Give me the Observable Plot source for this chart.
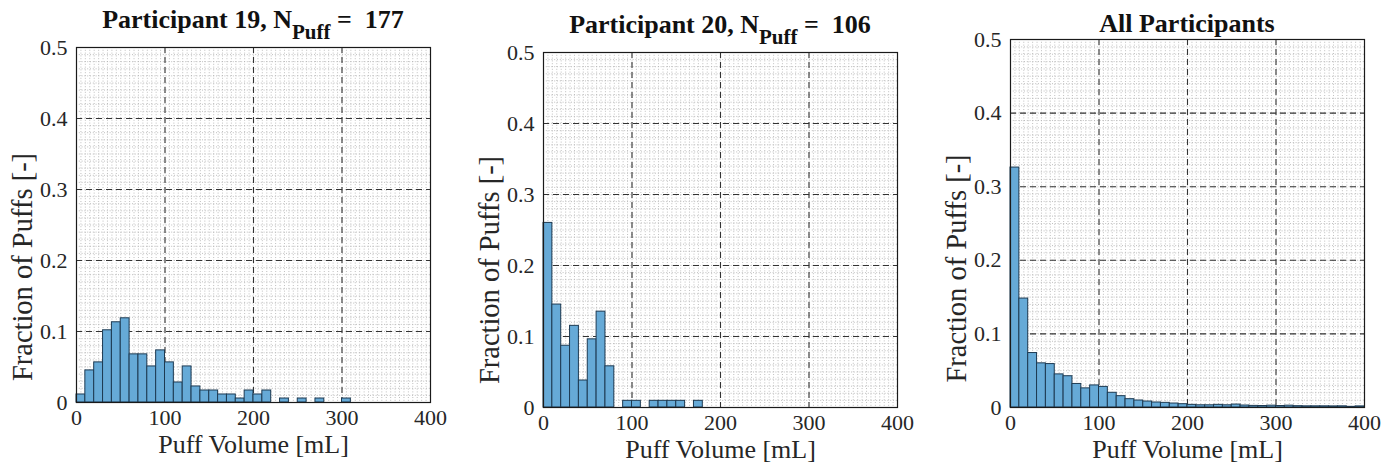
<!DOCTYPE html>
<html>
<head>
<meta charset="utf-8">
<script src="https://cdn.jsdelivr.net/npm/d3@7"></script>
<script src="https://cdn.jsdelivr.net/npm/@observablehq/plot@0.6"></script>
<style>
  html, body { margin: 0; padding: 0; background: #fff; }
  #wrap { position: relative; width: 1398px; height: 471px; overflow: hidden; }
  #wrap > svg { position: absolute; top: 0; }
</style>
</head>
<body>
<div id="wrap"></div>
<script>
// ---- data ----
const BIN_WIDTH = 10;
const BIN_STARTS = d3.range(0, 400, BIN_WIDTH);
const X_TICKS = [0, 100, 200, 300, 400];
const Y_TICKS = [0, 0.1, 0.2, 0.3, 0.4, 0.5];
const X_MAJOR_GRID = [100, 200, 300];
const Y_MAJOR_GRID = [0.1, 0.2, 0.3, 0.4];
const X_MINOR_GRID = d3.range(5, 400, 5);
const Y_MINOR_GRID = d3.range(1, 50).map(k => k / 100);

const p19 = [0.0113, 0.0452, 0.0565, 0.1017, 0.1130, 0.1186, 0.0678, 0.0678, 0.0508, 0.0734,
             0.0565, 0.0282, 0.0508, 0.0226, 0.0169, 0.0169, 0.0113, 0.0113, 0.0056, 0.0169,
             0.0113, 0.0169, 0, 0.0056, 0, 0.0056, 0, 0.0056, 0, 0,
             0.0056, 0, 0, 0, 0, 0, 0, 0, 0, 0];
const p20 = [0.260, 0.145, 0.087, 0.115, 0.038, 0.096, 0.135, 0.058, 0, 0.0094,
             0.0094, 0, 0.0094, 0.0094, 0.0094, 0.0094, 0, 0.0094, 0, 0,
             0, 0, 0, 0, 0, 0, 0, 0, 0, 0,
             0, 0, 0, 0, 0, 0, 0, 0, 0, 0];
const pAll = [0.326, 0.148, 0.074, 0.060, 0.059, 0.045, 0.0425, 0.032, 0.026, 0.030,
              0.028, 0.020, 0.0154, 0.0113, 0.0095, 0.0081, 0.0068, 0.0063, 0.0054, 0.0045,
              0.0036, 0.003, 0.003, 0.0036, 0.003, 0.004, 0.0027, 0.0022, 0.002, 0.0025,
              0.002, 0.0025, 0.0018, 0.0016, 0.0016, 0.0016, 0.0015, 0.0016, 0.0009, 0.0015];

const X_LABEL = "Puff Volume [mL]";
const Y_LABEL = "Fraction of Puffs [-]";

const panels = [
  {values: p19, left: 0, ml: 76, mr: 36, mt: 47, mb: 69, ly: 42,
   title: ["Participant 19, N", "Puff", " =  177"], base: 28},
  {values: p20, left: 466, ml: 77, mr: 35, mt: 52, mb: 64, ly: 40,
   title: ["Participant 20, N", "Puff", " =  106"], base: 33},
  {values: pAll, left: 932, ml: 78, mr: 34, mt: 39, mb: 64, ly: 45,
   title: ["All Participants"], base: 32}
];

const FONT = "'Liberation Serif', 'Times New Roman', Times, serif";
const wrap = document.getElementById("wrap");

for (const p of panels) {
  const data = BIN_STARTS.map((x0, i) => ({x0, x1: x0 + BIN_WIDTH, v: p.values[i]}))
                         .filter(d => d.v > 0);
  const W = 466, H = 471;
  const chart = Plot.plot({
    width: W, height: H,
    marginLeft: p.ml, marginRight: p.mr, marginTop: p.mt, marginBottom: p.mb,
    style: {fontFamily: FONT, background: "transparent", color: "#262626", overflow: "visible"},
    x: {domain: [0, 400]},
    y: {domain: [0, 0.5]},
    marks: [
      Plot.ruleX(X_MINOR_GRID, {stroke: "#b0b0b0", strokeWidth: 0.8, strokeDasharray: "1,1.8"}),
      Plot.ruleY(Y_MINOR_GRID, {stroke: "#b0b0b0", strokeWidth: 0.8, strokeDasharray: "1,1.8"}),
      Plot.ruleX(X_MAJOR_GRID, {stroke: "#333", strokeWidth: 1.1, strokeDasharray: "6,4"}),
      Plot.ruleY(Y_MAJOR_GRID, {stroke: "#333", strokeWidth: 1.1, strokeDasharray: "6,4"}),
      Plot.rectY(data, {x1: "x0", x2: "x1", y: "v", fill: "#66aad7", stroke: "#1d3a52",
                        strokeWidth: 1, inset: 0}),
      Plot.frame({stroke: "#1a1a1a", strokeWidth: 1.2}),
      Plot.axisX({ticks: X_TICKS, tickSize: 0, tickPadding: 7, fontSize: 22, label: null}),
      Plot.axisY({ticks: Y_TICKS, tickSize: 0, tickPadding: 9, fontSize: 22, label: null,
                  tickFormat: d => d === 0 ? "0" : d.toFixed(1)}),
      Plot.text([X_LABEL], {text: d => d, frameAnchor: "bottom", dy: 50, fontSize: 26,
                            textAnchor: "middle", fill: "#262626"}),
      Plot.text([Y_LABEL], {text: d => d, frameAnchor: "left", rotate: -90, dx: -54, dy: p.ly,
                            fontSize: 28.5, textAnchor: "middle", fill: "#262626"})
    ]
  });
  chart.style.left = p.left + "px";
  wrap.appendChild(chart);

  // Title (bold, with subscript)
  const cx = p.ml + (W - p.ml - p.mr) / 2;
  const t = d3.select(chart).append("text")
    .attr("x", cx).attr("y", p.base)
    .attr("text-anchor", "middle")
    .attr("font-family", FONT).attr("font-weight", "bold").attr("font-size", 26)
    .attr("fill", "#111")
    .style("white-space", "pre");
  t.append("tspan").text(p.title[0]);
  if (p.title.length > 1) {
    t.append("tspan").attr("dy", 11).attr("font-size", 21).text(p.title[1]);
    t.append("tspan").attr("dy", -11).text(p.title[2]);
  }
}
</script>
</body>
</html>
